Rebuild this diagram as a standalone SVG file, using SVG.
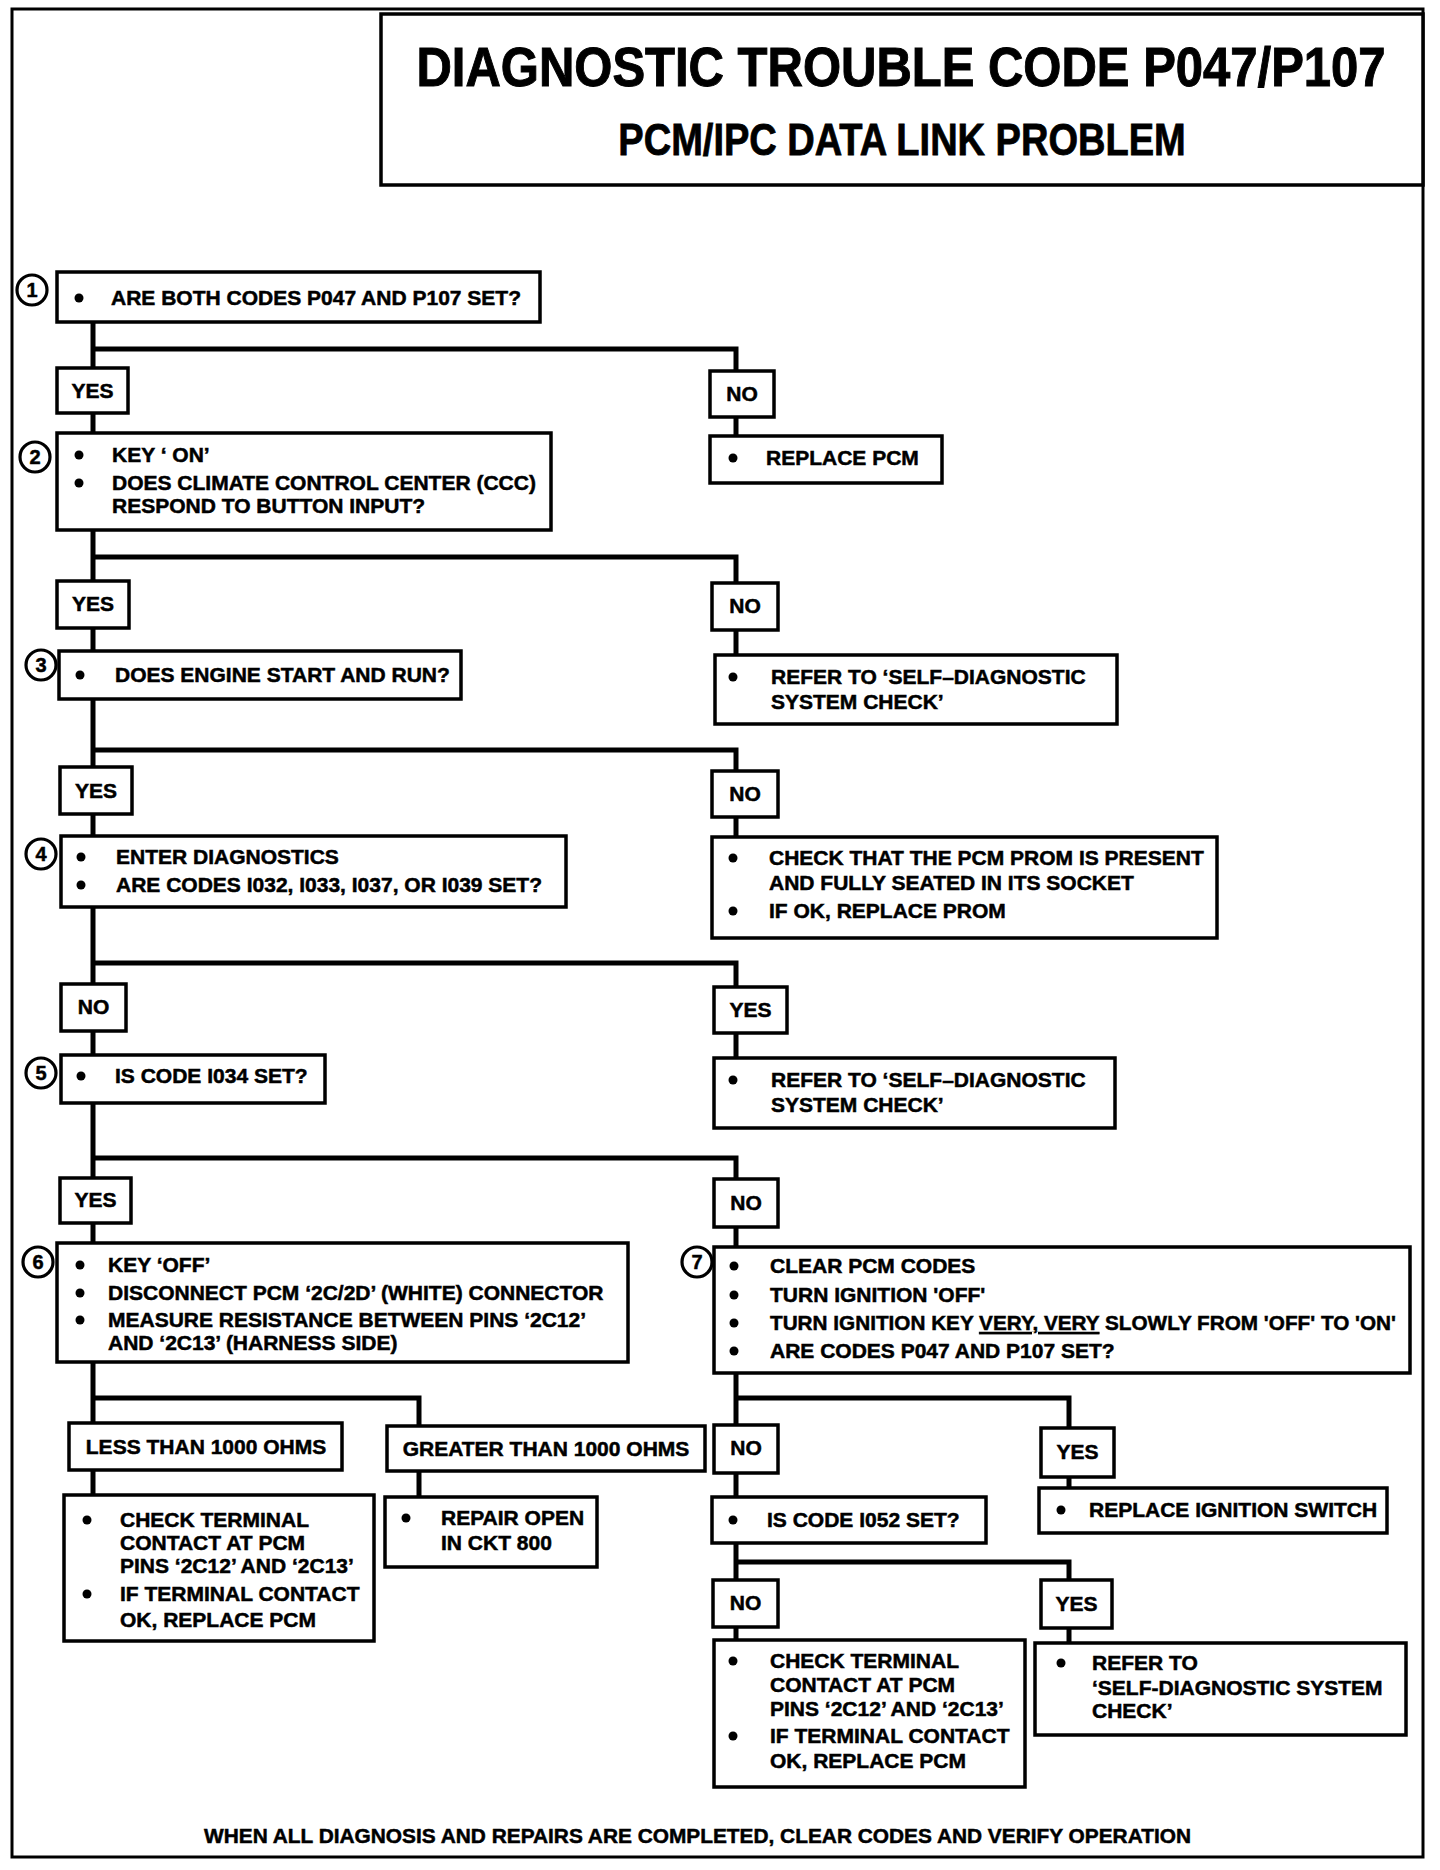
<svg xmlns="http://www.w3.org/2000/svg" width="1440" height="1870" viewBox="0 0 1440 1870">
<style>
text{font-family:"Liberation Sans",Arial,Helvetica,sans-serif;font-weight:bold;font-size:21px;fill:#000;stroke:#000;stroke-width:0.5}
.c{text-anchor:middle}
.t1{font-size:56px;stroke-width:1}
.t2{font-size:45px;stroke-width:0.8}
.box{fill:#fff;stroke:#000;stroke-width:3.5}
.frame{fill:none;stroke:#000;stroke-width:3}
.conn{fill:none;stroke:#000;stroke-width:5;stroke-linejoin:miter;stroke-linecap:square}
.num{fill:#fff;stroke:#000;stroke-width:3.2}
.nt{font-size:20px;text-anchor:middle}
.b{fill:#000}
</style>
<rect width="1440" height="1870" fill="#fff"/>
<rect class="frame" x="12" y="9" width="1411" height="1848"/>
<g id="title">
<rect class="box" x="381" y="14" width="1042" height="171"/>
<text class="c t1" transform="translate(901 86) scale(0.875 1)" x="0" y="0">DIAGNOSTIC TROUBLE CODE P047/P107</text>
<text class="c t2" transform="translate(902 155) scale(0.845 1)" x="0" y="0">PCM/IPC DATA LINK PROBLEM</text>
</g>
<g id="connectors">
<path class="conn" d="M93 322V368M93 349H736V371M93 413V433M736 417V436"/>
<path class="conn" d="M93 530V581M93 557H736V583M93 628V651M736 630V655"/>
<path class="conn" d="M93 699V767M93 750H736V771M93 814V836M736 817V837"/>
<path class="conn" d="M93 907V984M93 963H736V987M93 1031V1055M736 1033V1058"/>
<path class="conn" d="M93 1103V1178M93 1158H736V1179M93 1223V1243M736 1227V1247"/>
<path class="conn" d="M93 1362V1423M93 1398H419V1426M93 1470V1495M419 1471V1497"/>
<path class="conn" d="M736 1373V1425M736 1398H1069V1428M736 1473V1497M1069 1477V1488"/>
<path class="conn" d="M736 1543V1580M736 1562H1069V1580M736 1627V1640M1069 1628V1643"/>
</g>
<g id="n1">
<circle class="num" cx="32" cy="290" r="15"/><text class="nt" x="32" y="297">1</text>
<rect class="box" x="57" y="272" width="483" height="50"/>
<circle class="b" cx="79" cy="298" r="4.5"/>
<text x="111" y="305">ARE BOTH CODES P047 AND P107 SET?</text>
</g>
<g id="y1"><rect class="box" x="57" y="368" width="71" height="45"/><text class="c" x="92.5" y="398">YES</text></g>
<g id="no1"><rect class="box" x="710" y="371" width="64" height="46"/><text class="c" x="742" y="401">NO</text></g>
<g id="replacepcm">
<rect class="box" x="710" y="436" width="232" height="47"/>
<circle class="b" cx="733" cy="458" r="4.5"/>
<text x="766" y="465">REPLACE PCM</text>
</g>
<g id="n2">
<circle class="num" cx="35" cy="457" r="15"/><text class="nt" x="35" y="464">2</text>
<rect class="box" x="57" y="433" width="494" height="97"/>
<circle class="b" cx="79" cy="455" r="4.5"/><circle class="b" cx="79" cy="483" r="4.5"/>
<text x="112" y="462">KEY ‘ ON’</text>
<text x="112" y="490">DOES CLIMATE CONTROL CENTER (CCC)</text>
<text x="112" y="513">RESPOND TO BUTTON INPUT?</text>
</g>
<g id="y2"><rect class="box" x="57" y="581" width="72" height="47"/><text class="c" x="93" y="611">YES</text></g>
<g id="no2"><rect class="box" x="712" y="583" width="66" height="47"/><text class="c" x="745" y="613">NO</text></g>
<g id="refer1">
<rect class="box" x="715" y="655" width="402" height="69"/>
<circle class="b" cx="733" cy="677" r="4.5"/>
<text x="771" y="684">REFER TO ‘SELF–DIAGNOSTIC</text>
<text x="771" y="709">SYSTEM CHECK’</text>
</g>
<g id="n3">
<circle class="num" cx="41" cy="665" r="15"/><text class="nt" x="41" y="672">3</text>
<rect class="box" x="59" y="651" width="402" height="48"/>
<circle class="b" cx="80" cy="675" r="4.5"/>
<text x="115" y="682">DOES ENGINE START AND RUN?</text>
</g>
<g id="y3"><rect class="box" x="60" y="767" width="72" height="47"/><text class="c" x="96" y="798">YES</text></g>
<g id="no3"><rect class="box" x="712" y="771" width="66" height="46"/><text class="c" x="745" y="801">NO</text></g>
<g id="n4">
<circle class="num" cx="41" cy="854" r="15"/><text class="nt" x="41" y="861">4</text>
<rect class="box" x="61" y="836" width="505" height="71"/>
<circle class="b" cx="81" cy="857" r="4.5"/><circle class="b" cx="81" cy="885" r="4.5"/>
<text x="116" y="864">ENTER DIAGNOSTICS</text>
<text x="116" y="892">ARE CODES I032, I033, I037, OR I039 SET?</text>
</g>
<g id="prom">
<rect class="box" x="712" y="837" width="505" height="101"/>
<circle class="b" cx="733" cy="858" r="4.5"/><circle class="b" cx="733" cy="911" r="4.5"/>
<text x="769" y="865">CHECK THAT THE PCM PROM IS PRESENT</text>
<text x="769" y="890">AND FULLY SEATED IN ITS SOCKET</text>
<text x="769" y="918">IF OK, REPLACE PROM</text>
</g>
<g id="no4"><rect class="box" x="61" y="984" width="65" height="47"/><text class="c" x="93.5" y="1014">NO</text></g>
<g id="y4"><rect class="box" x="714" y="987" width="73" height="46"/><text class="c" x="750.5" y="1017">YES</text></g>
<g id="n5">
<circle class="num" cx="41" cy="1073" r="15"/><text class="nt" x="41" y="1080">5</text>
<rect class="box" x="61" y="1055" width="264" height="48"/>
<circle class="b" cx="81" cy="1076" r="4.5"/>
<text x="115" y="1083">IS CODE I034 SET?</text>
</g>
<g id="refer2">
<rect class="box" x="714" y="1058" width="401" height="70"/>
<circle class="b" cx="733" cy="1080" r="4.5"/>
<text x="771" y="1087">REFER TO ‘SELF–DIAGNOSTIC</text>
<text x="771" y="1112">SYSTEM CHECK’</text>
</g>
<g id="y5"><rect class="box" x="60" y="1178" width="71" height="45"/><text class="c" x="95.5" y="1207">YES</text></g>
<g id="no5"><rect class="box" x="714" y="1179" width="64" height="48"/><text class="c" x="746" y="1210">NO</text></g>
<g id="n6">
<circle class="num" cx="38" cy="1262" r="15"/><text class="nt" x="38" y="1269">6</text>
<rect class="box" x="57" y="1243" width="571" height="119"/>
<circle class="b" cx="80" cy="1265" r="4.5"/><circle class="b" cx="80" cy="1293" r="4.5"/><circle class="b" cx="80" cy="1320" r="4.5"/>
<text x="108" y="1272">KEY ‘OFF’</text>
<text x="108" y="1300">DISCONNECT PCM ‘2C/2D’ (WHITE) CONNECTOR</text>
<text x="108" y="1327">MEASURE RESISTANCE BETWEEN PINS ‘2C12’</text>
<text x="108" y="1350">AND ‘2C13’ (HARNESS SIDE)</text>
</g>
<g id="n7">
<circle class="num" cx="697" cy="1262" r="15"/><text class="nt" x="697" y="1269">7</text>
<rect class="box" x="714" y="1247" width="696" height="126"/>
<circle class="b" cx="734" cy="1266" r="4.5"/><circle class="b" cx="734" cy="1295" r="4.5"/><circle class="b" cx="734" cy="1323" r="4.5"/><circle class="b" cx="734" cy="1351" r="4.5"/>
<text x="770" y="1273">CLEAR PCM CODES</text>
<text x="770" y="1302">TURN IGNITION 'OFF'</text>
<text x="770" y="1330" textLength="626" lengthAdjust="spacingAndGlyphs">TURN IGNITION KEY <tspan text-decoration="underline">VERY, VERY</tspan> SLOWLY FROM 'OFF' TO 'ON'</text>
<text x="770" y="1358">ARE CODES P047 AND P107 SET?</text>
</g>
<g id="less"><rect class="box" x="69" y="1423" width="273" height="47"/><text class="c" x="206" y="1454">LESS THAN 1000 OHMS</text></g>
<g id="greater"><rect class="box" x="387" y="1426" width="318" height="45"/><text class="c" x="546" y="1456">GREATER THAN 1000 OHMS</text></g>
<g id="checkL">
<rect class="box" x="64" y="1495" width="310" height="146"/>
<circle class="b" cx="87" cy="1520" r="4.5"/><circle class="b" cx="87" cy="1594" r="4.5"/>
<text x="120" y="1527">CHECK TERMINAL</text>
<text x="120" y="1550">CONTACT AT PCM</text>
<text x="120" y="1573">PINS ‘2C12’ AND ‘2C13’</text>
<text x="120" y="1601">IF TERMINAL CONTACT</text>
<text x="120" y="1627">OK, REPLACE PCM</text>
</g>
<g id="repair">
<rect class="box" x="385" y="1497" width="212" height="70"/>
<circle class="b" cx="406" cy="1518" r="4.5"/>
<text x="441" y="1525">REPAIR OPEN</text>
<text x="441" y="1550">IN CKT 800</text>
</g>
<g id="no7"><rect class="box" x="714" y="1425" width="64" height="48"/><text class="c" x="746" y="1455">NO</text></g>
<g id="y7"><rect class="box" x="1041" y="1428" width="73" height="49"/><text class="c" x="1077.5" y="1459">YES</text></g>
<g id="i052">
<rect class="box" x="712" y="1497" width="274" height="46"/>
<circle class="b" cx="733" cy="1520" r="4.5"/>
<text x="767" y="1527">IS CODE I052 SET?</text>
</g>
<g id="ign">
<rect class="box" x="1039" y="1488" width="348" height="45"/>
<circle class="b" cx="1061" cy="1510" r="4.5"/>
<text x="1089" y="1517">REPLACE IGNITION SWITCH</text>
</g>
<g id="no8"><rect class="box" x="713" y="1580" width="65" height="47"/><text class="c" x="745.5" y="1610">NO</text></g>
<g id="y8"><rect class="box" x="1041" y="1580" width="71" height="48"/><text class="c" x="1076.5" y="1611">YES</text></g>
<g id="checkR">
<rect class="box" x="714" y="1640" width="311" height="147"/>
<circle class="b" cx="733" cy="1661" r="4.5"/><circle class="b" cx="733" cy="1736" r="4.5"/>
<text x="770" y="1668">CHECK TERMINAL</text>
<text x="770" y="1692">CONTACT AT PCM</text>
<text x="770" y="1716">PINS ‘2C12’ AND ‘2C13’</text>
<text x="770" y="1743">IF TERMINAL CONTACT</text>
<text x="770" y="1768">OK, REPLACE PCM</text>
</g>
<g id="refer3">
<rect class="box" x="1035" y="1643" width="371" height="92"/>
<circle class="b" cx="1061" cy="1663" r="4.5"/>
<text x="1092" y="1670">REFER TO</text>
<text x="1092" y="1695">‘SELF-DIAGNOSTIC SYSTEM</text>
<text x="1092" y="1718">CHECK’</text>
</g>
<text x="204" y="1843" textLength="987" lengthAdjust="spacingAndGlyphs">WHEN ALL DIAGNOSIS AND REPAIRS ARE COMPLETED, CLEAR CODES AND VERIFY OPERATION</text>
</svg>
